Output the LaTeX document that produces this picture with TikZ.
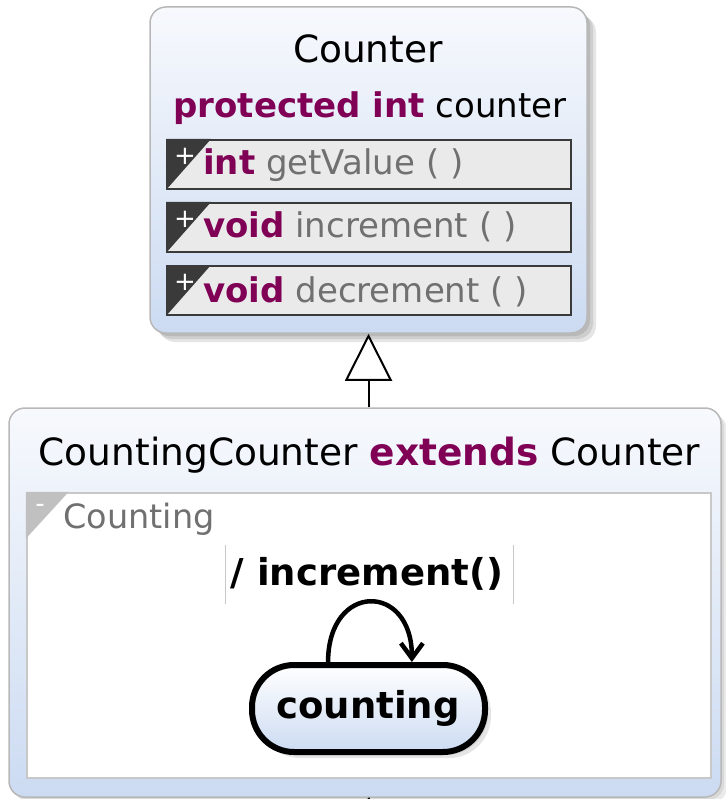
\documentclass[tikz,border=0pt]{standalone}
\usepackage{fontspec}
\setmainfont{DejaVu Sans}
\usetikzlibrary{arrows.meta,calc}
\definecolor{kw}{HTML}{7F0055}
\definecolor{mname}{HTML}{707070}
\definecolor{gtop}{HTML}{F7F9FD}
\definecolor{gbot}{HTML}{CCDBF2}
\definecolor{boxline}{HTML}{B8B8B8}
\definecolor{rowline}{HTML}{3A3A3A}
\definecolor{rowfill}{HTML}{EAEAEA}
\definecolor{regline}{HTML}{C8C8C8}
\definecolor{regtri}{HTML}{C0C0C0}
\newcommand{\fsT}{\fontsize{37.5}{44}\selectfont}
\newcommand{\fsM}{\fontsize{34}{40}\selectfont}
\newcommand{\fsS}{\fontsize{26}{30}\selectfont}
\begin{document}
\begin{tikzpicture}[x=1pt,y=-1pt,
  classbox/.style={draw=boxline, line width=1.5pt, rounded corners=16pt,
    top color=gtop, bottom color=gbot, inner sep=0pt},
  methodrow/.style={draw=rowline, line width=2pt, fill=rowfill, minimum width=404pt,
    minimum height=49pt, inner sep=0pt},
  txt/.style={inner sep=0pt, anchor=base},
  txtw/.style={inner sep=0pt, anchor=base west},
  gen/.style={line width=2pt, -{Triangle[open, fill=white, length=47pt, width=47pt]}},
  loopline/.style={line width=4.5pt, -{Straight Barb[length=15pt, width=22pt, line width=4.5pt]}},
  statebox/.style={draw=black, line width=6pt, rounded corners=42pt, top color=white,
    bottom color=gbot, minimum width=233pt, minimum height=87pt, inner sep=0pt}
]
\useasboundingbox (0,0) rectangle (725,799);

% ---------- Counter class ----------
\foreach \d in {3,6,9}{
  \fill[black, opacity=0.1, rounded corners=16pt] (150+\d,7+\d) rectangle (587+\d,333+\d);
}
\node[classbox, minimum width=437pt, minimum height=326pt] (counter) at (368.5,170) {};
\node[txt] (ctitle) at (368,63) {\fsT Counter};
\node[txt] (cattr) at (370,118) {\fsM\textcolor{kw}{\textbf{protected int}} counter};

\node[methodrow] (r1) at (369,164.5) {};
\node[methodrow] (r2) at (369,227.5) {};
\node[methodrow] (r3) at (369,290.5) {};
\foreach \r in {r1,r2,r3}{
  \fill[rowline] (\r.north west) -- ++(45,0) -- (\r.south west) -- cycle;
}
\node[inner sep=0pt, text=white] (p1) at (185,156.5) {\fsS +};
\node[inner sep=0pt, text=white] (p2) at (185,219.5) {\fsS +};
\node[inner sep=0pt, text=white] (p3) at (185,282.5) {\fsS +};
\node[txtw] (m1) at (203,175) {\fsM\textcolor{kw}{\textbf{int}} \textcolor{mname}{getValue ( )}};
\node[txtw] (m2) at (203,238) {\fsM\textcolor{kw}{\textbf{void}} \textcolor{mname}{increment ( )}};
\node[txtw] (m3) at (203,302) {\fsM\textcolor{kw}{\textbf{void}} \textcolor{mname}{decrement ( )}};

% ---------- CountingCounter class ----------
\foreach \d in {3,6}{
  \fill[black, opacity=0.08, rounded corners=16pt] (9+\d,408+\d) rectangle (721+\d,797+\d);
}
\node[classbox, minimum width=712pt, minimum height=389pt] (cc) at (365,602.5) {};
\node[txt] (cctitle) at (369.5,465) {\fsT CountingCounter \textcolor{kw}{\textbf{extends}} Counter};

\node[draw=regline, line width=2.5pt, fill=white, minimum width=684pt, minimum height=285pt,
  inner sep=0pt] (region) at (369,635.5) {};
\fill[regtri] (region.north west) -- ++(43,0) -- ($(region.north west)+(0,47)$) -- cycle;
\node[inner sep=0pt, text=white] (minus) at (40,508) {\fsS -};
\node[txtw, text=mname] (rname) at (63,528) {\fontsize{33.5}{40}\selectfont Counting};

% transition label
\node[txt] (tlabel) at (367,585) {\fontsize{37}{44}\selectfont\textbf{/ increment()}};
\draw[regline, line width=1pt] (225,545) coordinate (tl1) -- (225,604) coordinate (tl2);
\draw[regline, line width=1pt] (513,545) coordinate (tr1) -- (513,604) coordinate (tr2);

% state
\foreach \d in {3,6}{
  \fill[black, opacity=0.1, rounded corners=42pt] (252+\d,665+\d) rectangle (485+\d,752+\d);
}
\node[statebox] (state) at (368.5,708.5) {};
\node[txt] (sname) at (368,718) {\fontsize{37}{44}\selectfont\textbf{counting}};

\draw[loopline] (state.131.5) .. controls (328,582) and (412,582) .. (state.47.8);

% generalization
\draw[gen] (cc.north -| counter.south) -- (counter.south);
\coordinate (exit) at (369,799);
\draw[line width=2pt] (cc.south -| counter.south) -- (exit);
\end{tikzpicture}
\end{document}
